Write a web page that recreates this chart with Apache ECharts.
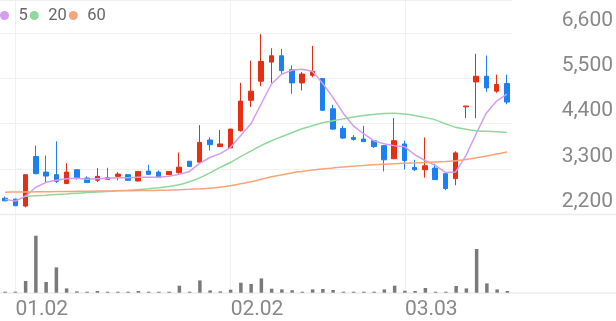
<!DOCTYPE html>
<html><head><meta charset="utf-8">
<script src="https://cdn.jsdelivr.net/npm/echarts@6/dist/echarts.min.js"></script>
<style>html,body{margin:0;padding:0;background:#fff}#c{width:616px;height:321px}</style>
</head><body><div id="c"></div>
<script>
const dates = ['12.29','01.02','01.03','01.04','01.05','01.06','01.09','01.10','01.11','01.12',
  '01.13','01.16','01.17','01.18','01.19','01.20','01.25','01.26','01.27','01.30',
  '01.31','02.01','02.02','02.03','02.06','02.07','02.08','02.09','02.10','02.13',
  '02.14','02.15','02.16','02.17','02.20','02.21','02.22','02.23','02.24','03.03',
  '03.06','03.07','03.08','03.09','03.10','03.13','03.14','03.15','03.16','03.17'];
const tickLabels = ['01.02','02.02','03.03'];
const opens  = [2590,2568,2400,3603,3225,3163,2946,3283,3081,3026, 3091,3122,3163,3009,3249,3225,3163,3211,3490,3466,
                4005,3844,3813,4229,4968,5433,5897,6051,5714,5392, 5577,5498,4763,4284,4068,4029,3988,3868,3548,3909,
                3338,3283,3322,3187,3067,4810,5416,5553,5192,5377];
const closes = [2527,2407,3163,3187,3129,3002,3225,3091,2970,3122, 3050,3177,3026,3242,3170,3091,3242,3346,3363,3947,
                3892,3909,4270,4951,5192,5914,6051,5690,5392,5608, 5673,4727,4270,4053,4020,3964,3844,3524,3988,3507,
                3283,3379,3042,2826,3692,4830,5553,5271,5353,4927];
const lows   = [2520,2400,2370,3170,2985,2961,2940,3042,2965,2985, 3045,3026,3020,3005,3165,3085,3160,3187,3360,3460,
                3748,3840,3810,4212,4807,5312,5392,5594,5127,5209, 5529,4720,4246,4029,3988,3960,3813,3242,3545,3290,
                3249,3091,3040,2785,2905,4535,4535,5175,5151,4872];
const highs  = [2630,2580,3163,3868,3627,3972,3442,3283,3122,3322, 3331,3225,3163,3242,3404,3266,3245,3700,3495,4366,
                4068,4246,4275,5392,5931,6576,6234,6220,5818,5656, 6292,5500,4860,4349,4126,4349,3990,3870,4535,3988,
                3524,4068,3428,3190,3731,4830,6099,6058,5594,5594];
const volumes = [100000,100000,1170000,5700000,1070000,2530000,430000,130000,100000,170000,
                 100000,100000,100000,170000,100000,100000,100000,700000,100000,1230000,
                 230000,130000,300000,1000000,870000,1430000,400000,330000,250000,100000,
                 330000,370000,270000,100000,100000,100000,100000,330000,700000,200000,
                 170000,470000,100000,100000,670000,430000,4370000,930000,330000,170000];
const ma5  = [2568,2520,2645,2857,2977,3026,3062,3074,3050,3062, 3074,3086,3086,3098,3098,3098,3122,3170,3242,3435,
              3580,3675,3820,4109,4398,4879,5360,5601,5697,5721, 5673,5384,5047,4662,4349,4157,3988,3916,3868,3844,
              3651,3507,3387,3218,3230,3627,4157,4662,4951,5119];
const ma20 = [null,null,2640,2652,2665,2681,2696,2713,2727,2742, 2756,2770,2785,2802,2821,2845,2874,2917,2989,3086,
              3206,3339,3459,3603,3736,3868,3988,4085,4181,4277, 4349,4422,4470,4518,4566,4602,4626,4650,4655,4638,
              4602,4554,4494,4398,4313,4265,4229,4217,4205,4188];
const ma60 = [2737,2740,2743,2746,2749,2752,2755,2758,2761,2764, 2767,2770,2773,2776,2779,2783,2789,2797,2806,2818,
              2833,2857,2893,2941,2989,3050,3110,3158,3206,3242, 3278,3302,3326,3351,3370,3387,3404,3418,3430,3440,
              3449,3459,3471,3483,3500,3531,3572,3615,3663,3712];
const maNames = ['5','20','60'];
const maColors = ['#d59cef','#8fd99c','#f7a47a'];

const candleData = dates.map((d, i) => [opens[i], closes[i], lows[i], highs[i]]);
const showIdx = (i, v) => tickLabels.indexOf(v) >= 0;
const font = 'Roboto, "Noto Sans", sans-serif';

const chart = echarts.init(document.getElementById('c'), null, {renderer: 'canvas'});
chart.setOption({
  animation: false,
  backgroundColor: '#fff',
  legend: {
    data: maNames, left: 0, top: 7, icon: 'circle', itemWidth: 12, itemHeight: 9, itemGap: 2, padding: [0,0,0,0],
    textStyle: {fontSize: 16.5, color: '#666', fontFamily: font, padding: [0,0,0,3]}
  },
  grid: [
    {left: 0, right: 103.5, top: -2, bottom: 106.7},
    {left: 0, right: 103.5, top: 220, bottom: 28.3}
  ],
  graphic: [
    {type: 'line', shape: {x1: 0, y1: 214.5, x2: 616, y2: 214.5}, style: {stroke: '#ececec', lineWidth: 1.5}, z: 1},
    {type: 'line', shape: {x1: 0, y1: 293, x2: 616, y2: 293}, style: {stroke: '#e6e6e6', lineWidth: 1.2}, z: 1}
  ],
  xAxis: [
    {type: 'category', data: dates, gridIndex: 0, boundaryGap: true,
     axisLine: {show: false}, axisTick: {show: false}, axisLabel: {show: false}, splitLine: {show: false}},
    {type: 'category', data: dates, gridIndex: 1, boundaryGap: true,
     axisLine: {show: false},
     axisTick: {show: true, alignWithLabel: true, inside: true, length: 293, interval: showIdx,
                lineStyle: {color: '#f0f0f0', width: 1}},
     axisLabel: {interval: showIdx, align: 'left', margin: 7, fontSize: 21, color: '#888', fontFamily: font},
     splitLine: {show: false}}
  ],
  yAxis: [
    {type: 'value', gridIndex: 0, position: 'right', min: 2200, max: 7406, interval: 1100,
     axisLine: {show: false}, axisTick: {show: false},
     splitLine: {show: true, lineStyle: {color: '#f0f0f0', width: 1}},
     axisLabel: {showMaxLabel: false, align: 'right', margin: 101, verticalAlign: 'bottom', padding: [0,0,2,0],
                 fontSize: 21, color: '#888', fontFamily: font,
                 formatter: v => v.toLocaleString('en-US')}},
    {type: 'value', gridIndex: 1, min: 0, max: 7270000, show: false, splitLine: {show: false}}
  ],
  series: [
    {type: 'candlestick', name: 'price', xAxisIndex: 0, yAxisIndex: 0, data: candleData, barWidth: 5,
     itemStyle: {color: '#e52e14', color0: '#1c7ff2', borderColor: '#e52e14', borderColor0: '#1c7ff2', borderWidth: 1}},
    {type: 'bar', name: 'volume', xAxisIndex: 1, yAxisIndex: 1, data: volumes, barWidth: 3.5,
     itemStyle: {color: '#7a7a7a'}},
    {type: 'line', name: maNames[0], xAxisIndex: 0, yAxisIndex: 0, data: ma5, showSymbol: false, symbol: 'none',
     lineStyle: {color: maColors[0], width: 1.5}, itemStyle: {color: maColors[0]}},
    {type: 'line', name: maNames[1], xAxisIndex: 0, yAxisIndex: 0, data: ma20, showSymbol: false, symbol: 'none', smooth: 0.3,
     lineStyle: {color: maColors[1], width: 1.5}, itemStyle: {color: maColors[1]}},
    {type: 'line', name: maNames[2], xAxisIndex: 0, yAxisIndex: 0, data: ma60, showSymbol: false, symbol: 'none', smooth: 0.3,
     lineStyle: {color: maColors[2], width: 1.5}, itemStyle: {color: maColors[2]}}
  ]
});
</script></body></html>
